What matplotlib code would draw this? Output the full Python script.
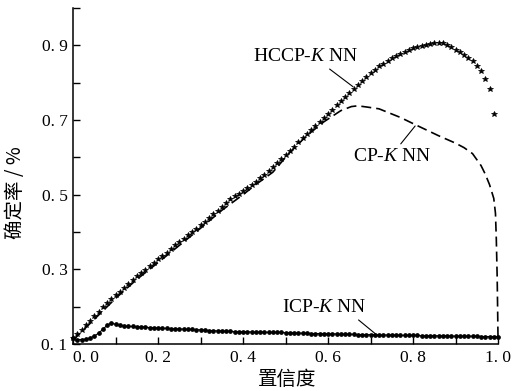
#!/usr/bin/env python3

import matplotlib
matplotlib.use('Agg')
import matplotlib.pyplot as plt
import numpy as np


# confidence levels (x) for the two marker series, step 0.01
conf = np.round(np.arange(0, 1.001, 0.01), 2)

hccp_y = [0.115, 0.126, 0.138, 0.150, 0.162, 0.174, 0.187, 0.199, 0.210, 0.220,
          0.230, 0.240, 0.251, 0.261, 0.271, 0.281, 0.290, 0.299, 0.308, 0.317,
          0.327, 0.336, 0.345, 0.355, 0.364, 0.373, 0.382, 0.391, 0.400, 0.409,
          0.418, 0.428, 0.437, 0.447, 0.457, 0.467, 0.478, 0.488, 0.496, 0.503,
          0.511, 0.519, 0.527, 0.535, 0.544, 0.553, 0.563, 0.574, 0.585, 0.596,
          0.607, 0.618, 0.629, 0.640, 0.651, 0.662, 0.673, 0.684, 0.695, 0.706,
          0.717, 0.728, 0.739, 0.750, 0.761, 0.772, 0.783, 0.794, 0.805, 0.815,
          0.825, 0.835, 0.844, 0.851, 0.858, 0.865, 0.872, 0.877, 0.883, 0.888,
          0.893, 0.896, 0.899, 0.901, 0.903, 0.905, 0.906, 0.907, 0.902, 0.895,
          0.888, 0.881, 0.874, 0.866, 0.857, 0.846, 0.830, 0.810, 0.783, 0.716]

icp_y = [0.115, 0.112, 0.112, 0.113, 0.116, 0.121, 0.129, 0.139, 0.150, 0.156,
         0.153, 0.150, 0.148, 0.147, 0.147, 0.146, 0.146, 0.145, 0.144, 0.144,
         0.143, 0.142, 0.142, 0.141, 0.141, 0.140, 0.140, 0.139, 0.139, 0.138,
         0.138, 0.137, 0.136, 0.136, 0.135, 0.135, 0.134, 0.134, 0.133, 0.133,
         0.133, 0.133, 0.132, 0.132, 0.132, 0.132, 0.131, 0.131, 0.131, 0.131,
         0.130, 0.130, 0.130, 0.129, 0.129, 0.129, 0.128, 0.128, 0.128, 0.128,
         0.127, 0.127, 0.127, 0.126, 0.126, 0.126, 0.126, 0.125, 0.125, 0.125,
         0.125, 0.125, 0.124, 0.124, 0.124, 0.124, 0.124, 0.123, 0.123, 0.123,
         0.123, 0.123, 0.122, 0.122, 0.122, 0.122, 0.122, 0.122, 0.122, 0.121,
         0.121, 0.121, 0.121, 0.121, 0.121, 0.121, 0.120, 0.120, 0.120, 0.120,
         0.120]

cp_x = [0.0, 0.05, 0.1, 0.15, 0.2, 0.25, 0.3, 0.35, 0.4, 0.43, 0.47, 0.51, 0.55,
        0.59, 0.63, 0.655, 0.67, 0.69, 0.72, 0.77, 0.81, 0.86, 0.9, 0.92, 0.94,
        0.96, 0.97, 0.98, 0.99, 0.994, 0.996, 0.998, 0.999, 1.0]
cp_y = [0.11, 0.166, 0.222, 0.273, 0.318, 0.364, 0.41, 0.458, 0.5, 0.527, 0.56,
        0.613, 0.658, 0.695, 0.725, 0.736, 0.738, 0.735, 0.73, 0.707, 0.685,
        0.658, 0.638, 0.626, 0.61, 0.578, 0.555, 0.527, 0.49, 0.45, 0.38, 0.28,
        0.2, 0.115]

x_ticks = [0.0, 0.2, 0.4, 0.6, 0.8, 1.0]
x_ticklabels = ['0. 0', '0. 2', '0. 4', '0. 6', '0. 8', '1. 0']
y_ticks = [0.1, 0.3, 0.5, 0.7, 0.9]
y_ticklabels = ['0. 1', '0. 3', '0. 5', '0. 7', '0. 9']


plt.rcParams['font.family'] = ['Liberation Serif', 'Noto Sans CJK SC']
plt.rcParams['mathtext.fontset'] = 'custom'
plt.rcParams['mathtext.rm'] = 'Liberation Serif'
plt.rcParams['mathtext.it'] = 'Liberation Serif:italic'

fig = plt.figure(figsize=(5.13, 3.91), dpi=100)
ax = fig.add_axes([0.1423, 0.1202, 0.8285, 0.8593])

# curves
ax.plot(conf[:len(hccp_y)], hccp_y, linestyle='none', marker='*', markersize=4,
        color='black', markeredgewidth=0.5, clip_on=False)
ax.plot(cp_x, cp_y, linestyle=(0, (6, 3)), color='black', linewidth=1.2,
        clip_on=False)
ax.plot(conf, icp_y, linestyle='-', linewidth=0.8, marker='o', markersize=2.4,
        color='black', clip_on=False)

# axes styling
ax.set_xlim(0, 1.0)
ax.set_ylim(0.1, 1.0)
ax.spines['top'].set_visible(False)
ax.spines['right'].set_visible(False)
ax.spines['left'].set_linewidth(1.1)
ax.spines['bottom'].set_linewidth(1.1)

ax.set_xticks(x_ticks)
ax.set_xticklabels(x_ticklabels)
ax.set_xticks(np.round(np.arange(0.1, 1.0, 0.2), 1), minor=True)
ax.set_yticks(y_ticks)
ax.set_yticklabels(y_ticklabels)
ax.set_yticks(np.round(np.arange(0.2, 1.01, 0.2), 1), minor=True)
ax.tick_params(which='both', direction='in', length=5, width=1.0,
               labelsize=12.5, pad=4)
ax.get_xticklabels()[0].set_horizontalalignment('left')

ax.set_xlabel('置信度', fontsize=14, family=['Noto Sans CJK SC'])
ax.xaxis.set_label_coords(0.505, -0.075)
ax.set_ylabel('确定率 / %', fontsize=14, family=['Noto Sans CJK SC', 'DejaVu Sans'])
ax.yaxis.set_label_coords(-0.11, 0.45)

# annotations
ax.annotate(r'HCCP-$\mathit{K}$ NN', xy=(0.659, 0.789), xytext=(0.548, 0.869),
            ha='center', va='center', fontsize=14,
            arrowprops=dict(arrowstyle='-', color='black', lw=0.8,
                            relpos=(0.68, 0.0), shrinkA=1, shrinkB=0))
ax.annotate(r'CP-$\mathit{K}$ NN', xy=(0.805, 0.684), xytext=(0.751, 0.603),
            ha='center', va='center', fontsize=14,
            arrowprops=dict(arrowstyle='-', color='black', lw=0.8,
                            relpos=(0.57, 1.0), shrinkA=1, shrinkB=0))
ax.annotate(r'ICP-$\mathit{K}$ NN', xy=(0.715, 0.124), xytext=(0.591, 0.197),
            ha='center', va='center', fontsize=14,
            arrowprops=dict(arrowstyle='-', color='black', lw=0.8,
                            relpos=(0.83, 0.1), shrinkA=1, shrinkB=0))

fig.savefig('out.png', dpi=100)
